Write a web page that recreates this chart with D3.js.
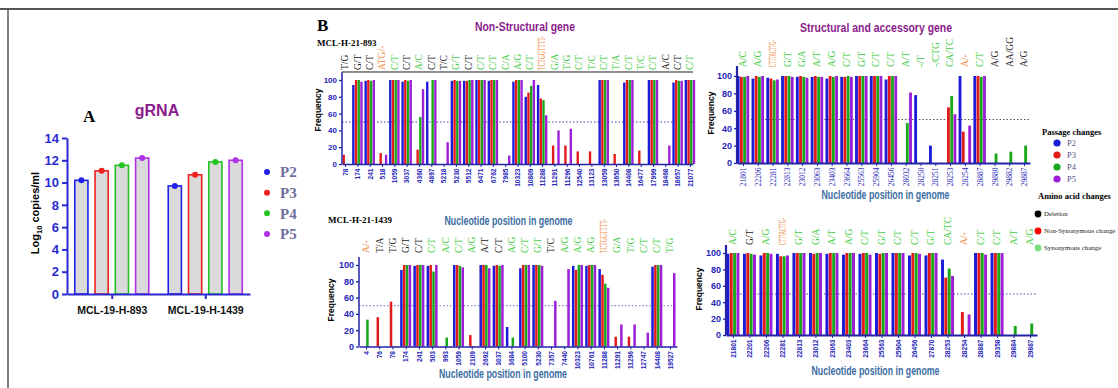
<!DOCTYPE html>
<html>
<head>
<meta charset="utf-8">
<script src="https://cdn.jsdelivr.net/npm/d3@7"></script>
<style>
body { margin: 0; background: #fff; }
svg { display: block; }
</style>
</head>
<body>
<svg id="fig" width="1118" height="388"></svg>
<script>
// ---- panel A: gRNA copies ----
const groupsA = ['MCL-19-H-893', 'MCL-19-H-1439'];
const passages = ['P2', 'P3', 'P4', 'P5'];
const gRNA893 = [10.2, 11.05, 11.55, 12.2];
const gRNA1439 = [9.7, 10.7, 11.85, 12.0];
const yTicksA = [0, 2, 4, 6, 8, 10, 12, 14];
const freqTicks = [0, 20, 40, 60, 80, 100];

// ---- panel B: MCL-H-21-893, non-structural ----
const ns893Pos = ['78', '174', '241', '518', '1059', '3037', '4360', '4897', '5218', '5230', '5512', '6471', '6762', '7985', '10323', '10809', '11288', '11291', '11296', '12540', '13123', '13059', '13650', '14408', '16477', '17999', '18468', '18657', '21077'];
const ns893Mut = ['T/G', 'G/T', 'C/T', 'ATG/-', 'C/T', 'C/T', 'A/C', 'C/T', 'T/C', 'G/T', 'C/T', 'C/T', 'C/T', 'C/A', 'A/G', 'C/T', 'TCTGGTTTT-', 'G/A', 'T/G', 'C/T', 'T/C', 'C/T', 'T/A', 'C/T', 'T/C', 'C/T', 'A/C', 'C/T', 'C/T'];
const ns893Type = ['n', 'n', 'n', 'd', 's', 'n', 's', 'n', 'n', 's', 'n', 's', 's', 's', 's', 's', 'd', 's', 's', 's', 's', 's', 's', 's', 's', 's', 'n', 'n', 's'];
const ns893P2 = [0, 94, 99, 0, 100, 98, 0, 98, 0, 99, 99, 100, 99, 0, 98, 80, 94, 0, 0, 0, 0, 100, 0, 97, 0, 100, 0, 97, 100];
const ns893P3 = [11, 100, 100, 13, 100, 100, 17, 0, 0, 100, 99, 100, 100, 0, 100, 85, 78, 22, 22, 15, 15, 100, 12, 100, 16, 100, 0, 100, 100];
const ns893P4 = [0, 100, 99, 0, 100, 99, 56, 100, 0, 99, 100, 100, 100, 0, 100, 93, 76, 0, 0, 0, 0, 100, 0, 100, 0, 100, 0, 99, 100];
const ns893P5 = [0, 98, 100, 11, 100, 100, 89, 100, 26, 99, 100, 100, 100, 10, 100, 100, 58, 40, 42, 0, 0, 100, 0, 100, 0, 100, 22, 99, 100];

// ---- MCL-H-21-893, structural and accessory ----
const st893Pos = ['21801', '22206', '22281', '22813', '23012', '23063', '23403', '23664', '25563', '25904', '26456', '28032', '28250', '28251', '28253', '28254', '28887', '29880', '29882', '29887'];
const st893Mut = ['A/C', 'A/G', 'CTTTACTTG-', 'G/T', 'G/A', 'A/T', 'A/G', 'C/T', 'G/T', 'C/T', 'C/T', 'A/T', '-/T', '-/CTG', 'CA/TC', 'A/-', 'C/T', 'A/G', 'AA/GG', 'A/G'];
const st893Type = ['s', 's', 'd', 's', 's', 's', 's', 's', 's', 's', 's', 's', 's', 's', 's', 'd', 's', 'n', 'n', 'n'];
const st893P2 = [100, 97, 98, 100, 99, 99, 97, 99, 100, 100, 96, 0, 78, 20, 0, 100, 100, 0, 0, 0];
const st893P3 = [99, 100, 97, 100, 100, 100, 100, 99, 100, 100, 100, 0, 0, 0, 64, 36, 100, 0, 0, 0];
const st893P4 = [99, 99, 95, 100, 99, 99, 99, 100, 100, 100, 100, 46, 0, 0, 77, 0, 99, 11, 13, 20];
const st893P5 = [100, 100, 96, 99, 98, 99, 100, 99, 100, 100, 100, 81, 0, 0, 56, 43, 100, 0, 0, 0];

// ---- MCL-H-21-1439, non-structural ----
const ns1439Pos = ['4', '76', '78', '174', '241', '503', '993', '1059', '2109', '2692', '3037', '3684', '5100', '5230', '7357', '7440', '10323', '10761', '11288', '11291', '11296', '12747', '14408', '19527'];
const ns1439Mut = ['A/-', 'T/A', 'T/G', 'G/T', 'C/T', 'C/T', 'A/C', 'C/T', 'A/G', 'A/T', 'C/T', 'A/G', 'C/T', 'G/T', 'T/C', 'A/G', 'A/G', 'A/G', 'TCTGGTTTT-', 'G/A', 'T/G', 'C/T', 'C/T', 'T/G'];
const ns1439Type = ['d', 'n', 'n', 'n', 'n', 's', 's', 's', 's', 'n', 'n', 's', 's', 's', 'n', 's', 's', 's', 'd', 's', 's', 's', 's', 's'];
const ns1439P2 = [0, 0, 0, 94, 99, 99, 0, 100, 0, 100, 99, 24, 96, 100, 0, 0, 99, 99, 95, 0, 0, 0, 98, 0];
const ns1439P3 = [0, 36, 55, 100, 100, 100, 0, 100, 14, 100, 100, 0, 100, 100, 0, 0, 94, 100, 88, 12, 12, 0, 100, 0];
const ns1439P4 = [33, 0, 0, 100, 100, 92, 11, 99, 0, 100, 99, 11, 100, 100, 0, 0, 100, 100, 77, 0, 0, 0, 100, 0];
const ns1439P5 = [0, 0, 0, 100, 100, 100, 0, 97, 0, 96, 100, 0, 100, 99, 56, 95, 100, 100, 72, 27, 27, 17, 100, 90];

// ---- MCL-H-21-1439, structural and accessory ----
const st1439Pos = ['21801', '22201', '22206', '22281', '22813', '23012', '23063', '23403', '23664', '25563', '25904', '26456', '27870', '28253', '28254', '28887', '29358', '29884', '29887'];
const st1439Mut = ['A/C', 'G/T', 'A/G', 'CTTTACTTG-', 'G/T', 'G/A', 'A/T', 'A/G', 'C/T', 'G/T', 'C/T', 'C/T', 'G/T', 'CA/TC', 'A/-', 'C/T', 'C/T', 'A/T', 'A/G'];
const st1439Type = ['s', 'n', 's', 'd', 's', 's', 's', 's', 's', 's', 's', 's', 's', 's', 'd', 's', 's', 's', 's'];
const st1439P2 = [99, 99, 97, 99, 100, 100, 99, 98, 99, 100, 100, 97, 97, 92, 0, 100, 100, 0, 0];
const st1439P3 = [100, 100, 100, 96, 100, 99, 100, 100, 100, 99, 100, 100, 100, 70, 28, 100, 100, 0, 0];
const st1439P4 = [100, 99, 100, 96, 100, 100, 100, 100, 100, 100, 100, 100, 100, 81, 0, 100, 100, 11, 14];
const st1439P5 = [100, 98, 99, 97, 100, 100, 100, 100, 98, 100, 100, 99, 100, 72, 25, 98, 100, 0, 0];

const aminoLegend = ['Deletion', 'Non-Synonymous change', 'Synonymous change'];

const SANS = 'Liberation Sans, Arial, sans-serif';
const SERIF = 'Liberation Serif, Times New Roman, serif';
const passColor = {P2: '#1b1bd8', P3: '#e21a1a', P4: '#1aa81a', P5: '#9b1fd6'};
const passColorA = {P2: '#2020e8', P3: '#f02020', P4: '#22c422', P5: '#b030e8'};
const mutColor = {n: '#222', s: '#3ccc3c', d: '#f0883a'};
const axisBlue = '#2323a6';
const tickBlue = '#2525b8';
const titlePurple = '#8a1b8c';
const posBlue = '#3d6da3';

const svg = d3.select('#fig');

// frame
svg.append('line').attr('x1', 0).attr('x2', 1118).attr('y1', 9).attr('y2', 9)
    .attr('stroke', '#555').attr('stroke-width', 2);
svg.append('line').attr('x1', 8).attr('x2', 8).attr('y1', 9).attr('y2', 388)
    .attr('stroke', '#555').attr('stroke-width', 1.5);

function drawPanelA() {
    const g = svg.append('g');
    const x0 = d3.scalePoint().domain(groupsA).range([67, 250]).padding(0.479);
    const x1 = d3.scaleBand().domain(passages).range([-37, 37]).paddingInner(0.35);
    const y = d3.scaleLinear().domain([0, 14]).range([294, 138]);
    const rows = [gRNA893, gRNA1439];

    const grp = g.selectAll('g.grp')
        .data(groupsA)
        .join('g')
        .attr('transform', d => `translate(${x0(d)},0)`);

    const bars = grp.selectAll('g.bar')
        .data((d, i) => passages.map((p, j) => ({p, v: rows[i][j]})))
        .join('g');

    bars.append('rect')
        .attr('x', d => x1(d.p))
        .attr('width', x1.bandwidth())
        .attr('y', d => y(d.v))
        .attr('height', d => y(0) - y(d.v))
        .attr('fill', '#dadada')
        .attr('stroke', d => passColorA[d.p])
        .attr('stroke-width', 1.6);

    bars.append('circle')
        .attr('cx', d => x1(d.p) + x1.bandwidth() / 2)
        .attr('cy', d => y(d.v))
        .attr('r', 3)
        .attr('fill', d => passColorA[d.p]);

    const ya = g.append('g')
        .attr('transform', 'translate(67,0)')
        .call(d3.axisLeft(y).tickValues(yTicksA).tickSize(5).tickSizeOuter(0).tickPadding(3));
    ya.select('.domain').attr('stroke', '#2a2ad0').attr('stroke-width', 2);
    ya.selectAll('line').attr('stroke', '#2a2ad0').attr('stroke-width', 2);
    ya.selectAll('text').attr('fill', '#2a2ad0').attr('font-family', SANS)
        .attr('font-weight', 'bold').attr('font-size', 13);

    const xa = g.append('g')
        .attr('transform', 'translate(0,294)')
        .call(d3.axisBottom(x0).tickSize(5).tickSizeOuter(0).tickPadding(8));
    xa.select('.domain').attr('stroke', '#2a2ad0').attr('stroke-width', 2);
    xa.selectAll('line').attr('stroke', '#2a2ad0').attr('stroke-width', 2);
    xa.selectAll('text').attr('fill', '#111').attr('font-family', SANS)
        .attr('font-weight', 'bold').attr('font-size', 10.5);

    const yl = g.append('text')
        .attr('transform', 'translate(39,213) rotate(-90)')
        .attr('text-anchor', 'middle')
        .attr('font-family', SANS).attr('font-weight', 'bold').attr('font-size', 11);
    yl.append('tspan').text('Log');
    yl.append('tspan').attr('font-size', 7.5).attr('dy', 3).text('10');
    yl.append('tspan').attr('dy', -3).text(' copies/ml');

    g.append('text').attr('x', 83).attr('y', 122).text('A')
        .attr('font-family', SERIF).attr('font-weight', 'bold').attr('font-size', 17);
    g.append('text').attr('x', 157).attr('y', 116).attr('text-anchor', 'middle').text('gRNA')
        .attr('font-family', SANS).attr('font-weight', 'bold').attr('font-size', 16)
        .attr('fill', titlePurple);

    const ly = d3.scalePoint().domain(passages).range([172, 234]);
    const leg = g.selectAll('g.leg').data(passages).join('g')
        .attr('transform', d => `translate(267,${ly(d)})`);
    leg.append('circle').attr('r', 3).attr('fill', d => passColorA[d]);
    leg.append('text').attr('x', 13).attr('dy', '0.35em').text(d => d)
        .attr('font-family', SERIF).attr('font-weight', 'bold').attr('font-size', 15)
        .attr('fill', '#6d6d9c');
}

function freqChart(o) {
    const g = svg.append('g');
    const x = d3.scalePoint().domain(o.pos).range([o.x0, o.x1]).padding(o.pad);
    const y = d3.scaleLinear().domain([0, 100]).range([o.yBase, o.y100]);
    const sub = d3.scaleBand().domain(passages).range([-o.gw / 2, o.gw / 2]).paddingInner(0.12);

    const rows = o.pos.map((p, i) => ({p, vals: o.series.map(s => s[i])}));

    // 50% reference
    g.append('line')
        .attr('x1', o.x0).attr('x2', o.x1)
        .attr('y1', y(50)).attr('y2', y(50))
        .attr('stroke', o.refColor).attr('stroke-width', 1)
        .attr('stroke-dasharray', '1.5,2');

    g.selectAll('g.cat')
        .data(rows)
        .join('g')
        .attr('transform', d => `translate(${x(d.p)},0)`)
        .selectAll('rect')
        .data(d => passages.map((k, j) => ({k, v: d.vals[j]})).filter(e => e.v > 0))
        .join('rect')
        .attr('x', e => sub(e.k))
        .attr('width', sub.bandwidth())
        .attr('y', e => y(e.v))
        .attr('height', e => y(0) - y(e.v))
        .attr('fill', e => passColor[e.k]);

    // x axis
    const xa = g.append('g')
        .attr('transform', `translate(0,${o.yBase})`)
        .call(d3.axisBottom(x).tickSize(3).tickSizeOuter(0));
    xa.select('.domain').attr('stroke', axisBlue).attr('stroke-width', o.axisW);
    xa.selectAll('.tick line').attr('stroke', axisBlue);
    xa.selectAll('text')
        .attr('transform', 'rotate(-90)')
        .attr('text-anchor', 'end')
        .attr('x', -4.5).attr('y', 0).attr('dy', '0.35em')
        .attr('fill', tickBlue)
        .attr('font-family', o.tickSerif ? SERIF : SANS)
        .attr('font-weight', o.tickSerif ? 'normal' : 'bold')
        .attr('font-size', o.tickSerif ? 7.5 : 6.6);

    // y axis
    const ya = g.append('g')
        .attr('transform', `translate(${o.x0},0)`)
        .call(d3.axisLeft(y).tickValues(freqTicks).tickSize(3).tickSizeOuter(0).tickPadding(2));
    ya.select('.domain').attr('d', `M0,${o.yBase}V${o.axisTop}`)
        .attr('stroke', axisBlue).attr('stroke-width', o.axisW);
    ya.selectAll('.tick line').attr('stroke', axisBlue).attr('stroke-width', 1.3);
    ya.selectAll('text').attr('fill', tickBlue).attr('font-family', SANS)
        .attr('font-weight', 'bold').attr('font-size', o.yFont);

    g.append('text')
        .attr('transform', `translate(${o.freqX},${o.freqY}) rotate(-90)`)
        .attr('text-anchor', 'middle').attr('dy', '0.35em')
        .attr('font-family', SANS).attr('font-weight', 'bold').attr('font-size', 8.5)
        .text('Frequency');

    if (o.topLine) {
        g.append('line').attr('x1', o.x0).attr('x2', o.x1)
            .attr('y1', o.axisTop).attr('y2', o.axisTop)
            .attr('stroke', '#666').attr('stroke-width', 1.6);
    }

    // mutation labels
    g.selectAll('text.mut')
        .data(o.pos.map((p, i) => ({p, m: o.mut[i], t: o.type[i]})))
        .join('text')
        .attr('class', 'mut')
        .attr('transform', d => `translate(${x(d.p)},${o.labY}) rotate(-90)`)
        .attr('dy', '0.35em')
        .attr('font-family', SERIF).attr('font-size', 9.5)
        .attr('fill', d => mutColor[d.t])
        .attr('textLength', d => d.m.length > 6 ? o.longLen : null)
        .attr('lengthAdjust', 'spacingAndGlyphs')
        .text(d => d.m);

    g.append('text')
        .attr('x', (o.x0 + o.x1) / 2 + o.posDx).attr('y', o.posY)
        .attr('text-anchor', 'middle')
        .attr('font-family', SANS).attr('font-weight', 'bold').attr('font-size', 12.5)
        .attr('fill', posBlue).attr('textLength', 128).attr('lengthAdjust', 'spacingAndGlyphs')
        .text('Nucleotide position in genome');
}

drawPanelA();

svg.append('text').attr('x', 317).attr('y', 31).text('B')
    .attr('font-family', SERIF).attr('font-weight', 'bold').attr('font-size', 17);
svg.append('text').attr('x', 317).attr('y', 46).text('MCL-H-21-893')
    .attr('font-family', SERIF).attr('font-weight', 'bold').attr('font-size', 9);
svg.append('text').attr('x', 328).attr('y', 223).text('MCL-H-21-1439')
    .attr('font-family', SERIF).attr('font-weight', 'bold').attr('font-size', 9);
svg.append('text').attr('x', 525).attr('y', 31).attr('text-anchor', 'middle')
    .attr('font-family', SANS).attr('font-weight', 'bold').attr('font-size', 13.5)
    .attr('fill', titlePurple).attr('textLength', 100).attr('lengthAdjust', 'spacingAndGlyphs')
    .text('Non-Structural gene');
svg.append('text').attr('x', 876).attr('y', 32).attr('text-anchor', 'middle')
    .attr('font-family', SANS).attr('font-weight', 'bold').attr('font-size', 13.5)
    .attr('fill', titlePurple).attr('textLength', 152).attr('lengthAdjust', 'spacingAndGlyphs')
    .text('Structural and accessory gene');

freqChart({
    pos: ns893Pos, mut: ns893Mut, type: ns893Type,
    series: [ns893P2, ns893P3, ns893P4, ns893P5],
    x0: 342, x1: 693, pad: 0.25, yBase: 164, y100: 80, axisTop: 72, gw: 10.5,
    labY: 70, longLen: 34, axisW: 1.5, yFont: 8, freqX: 318, freqY: 110,
    refColor: '#3a3ab4', topLine: true, tickSerif: false, posY: 225, posDx: -9
});
freqChart({
    pos: st893Pos, mut: st893Mut, type: st893Type,
    series: [st893P2, st893P3, st893P4, st893P5],
    x0: 737, x1: 1030, pad: 0.405, yBase: 163, y100: 76, axisTop: 66, gw: 12.5,
    labY: 67, longLen: 27, axisW: 2.2, yFont: 9, freqX: 711, freqY: 113,
    refColor: '#555', topLine: false, tickSerif: true, posY: 199, posDx: 2
});
freqChart({
    pos: ns1439Pos, mut: ns1439Mut, type: ns1439Type,
    series: [ns1439P2, ns1439P3, ns1439P4, ns1439P5],
    x0: 359, x1: 677, pad: 0.53, yBase: 346.5, y100: 265, axisTop: 257, gw: 11,
    labY: 253, longLen: 34, axisW: 1.5, yFont: 9, freqX: 331, freqY: 300,
    refColor: '#6a6ac0', topLine: false, tickSerif: false, posY: 378, posDx: -15
});
freqChart({
    pos: st1439Pos, mut: st1439Mut, type: st1439Type,
    series: [st1439P2, st1439P3, st1439P4, st1439P5],
    x0: 726, x1: 1037, pad: 0.42, yBase: 335, y100: 253, axisTop: 245, gw: 13,
    labY: 245, longLen: 27, axisW: 2.2, yFont: 9, freqX: 699, freqY: 289,
    refColor: '#4a4ab8', topLine: false, tickSerif: false, posY: 375, posDx: -6
});

// legend
const lg = svg.append('g');
lg.append('text').attr('x', 1042).attr('y', 135).text('Passage changes')
    .attr('font-family', SERIF).attr('font-weight', 'bold').attr('font-size', 8.5);
const py = d3.scalePoint().domain(passages).range([143, 179]);
const pl = lg.selectAll('g.pl').data(passages).join('g')
    .attr('transform', d => `translate(1057,${py(d)})`);
pl.append('circle').attr('r', 3.6).attr('fill', d => passColor[d]);
pl.append('text').attr('x', 10).attr('dy', '0.35em').text(d => d)
    .attr('font-family', SERIF).attr('font-size', 8.5).attr('fill', '#55558a');

lg.append('text').attr('x', 1038).attr('y', 199).text('Amino acid changes')
    .attr('font-family', SERIF).attr('font-weight', 'bold').attr('font-size', 8.5);
const aminoColor = ['#000', '#ff0000', '#7edc7e'];
const ay = d3.scalePoint().domain(aminoLegend).range([214, 248]);
const al = lg.selectAll('g.al').data(aminoLegend).join('g')
    .attr('transform', d => `translate(1038,${ay(d)})`);
al.append('circle').attr('r', 3.4).attr('fill', (d, i) => aminoColor[i]);
al.append('text').attr('x', 6).attr('dy', '0.35em').text(d => d)
    .attr('font-family', SERIF).attr('font-size', 6.9).attr('fill', '#222');
</script>
</body>
</html>
